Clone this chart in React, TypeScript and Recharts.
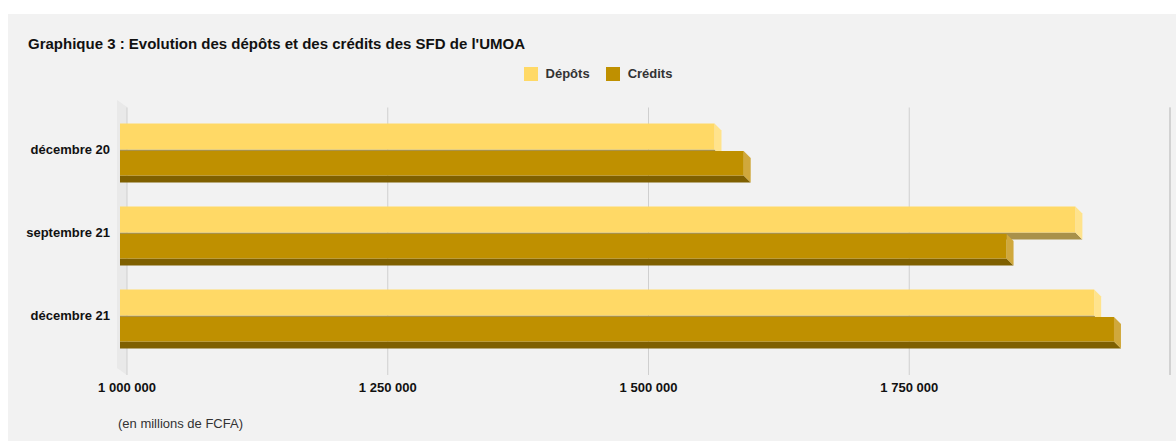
import { BarChart, Bar, XAxis, YAxis, CartesianGrid, ReferenceLine } from "recharts";

const periods = ["décembre 20", "septembre 21", "décembre 21"];
const depots = [1570000, 1916000, 1934000];
const credits = [1598000, 1850000, 1953000];
const xTicks = [1000000, 1250000, 1500000, 1750000, 2000000];

const data = periods.map((p, i) => ({ period: p, depots: depots[i], credits: credits[i] }));

const FONT = "'Liberation Sans', Arial, sans-serif";
const DEPTH = 7;

// 3D-looking bar: front face shifted left, side + bottom faces going down-right
function make3DBar(front: string, side: string, bottom: string, topGap = 0) {
  return (props: any) => {
    const { x, width } = props;
    if (width == null || width <= 0) return null;
    const y = props.y + topGap;
    const height = props.height - topGap;
    const fx = x - DEPTH;
    const r = fx + width;
    const b = y + height;
    return (
      <g>
        <polygon
          points={`${fx},${b} ${r},${b} ${r + DEPTH},${b + DEPTH} ${fx},${b + DEPTH}`}
          fill={bottom}
        />
        <polygon
          points={`${r},${y} ${r + DEPTH},${y + DEPTH} ${r + DEPTH},${b + DEPTH} ${r},${b}`}
          fill={side}
        />
        <rect x={fx} y={y} width={width} height={height} fill={front} />
      </g>
    );
  };
}

const fmt = (v: number) =>
  v >= 2000000 ? "" : v.toLocaleString("fr-FR").replace(/\s/g, " ");

function LegendBox() {
  const items = [
    { label: "Dépôts", color: "#FFD966" },
    { label: "Crédits", color: "#BF9000" },
  ];
  return (
    <div style={{ display: "flex", justifyContent: "center", gap: 16, fontFamily: FONT }}>
      {items.map((it) => (
        <div key={it.label} style={{ display: "flex", alignItems: "center" }}>
          <span style={{ width: 14, height: 14, background: it.color, display: "inline-block", marginRight: 8 }} />
          <span style={{ fontSize: 13, fontWeight: 700, color: "#333" }}>{it.label}</span>
        </div>
      ))}
    </div>
  );
}

export default function App() {
  return (
    <div style={{ position: "fixed", left: 0, top: 0, width: 1176, height: 441, background: "#fff", overflow: "hidden" }}>
      <div
        style={{
          position: "absolute",
          left: 8,
          top: 14,
          width: 1168,
          height: 427,
          background: "#f2f2f2",
          fontFamily: FONT,
        }}
      >
        <div style={{ position: "absolute", left: 20, top: 21, fontSize: 15, fontWeight: 700, color: "#111" }}>
          Graphique 3 : Evolution des dépôts et des crédits des SFD de l'UMOA
        </div>
        <div style={{ position: "absolute", left: 6, top: 52, width: 1168 }}>
          <LegendBox />
        </div>
        <svg style={{ position: "absolute", left: 0, top: 0 }} width={1168} height={427}>
          <polygon points="109,86 119,93 119,361 109,354" fill="#e9e9e9" />
        </svg>
        <div style={{ position: "absolute", left: 0, top: 0 }}>
          <BarChart
            width={1168}
            height={427}
            data={data}
            layout="vertical"
            margin={{ top: 93.5, right: 6, bottom: 36, left: 0 }}
            barGap={0}
            barSize={26}
          >
            <CartesianGrid horizontal={false} stroke="#cfcfcf" />
            <ReferenceLine x={2000000} stroke="#d2d2d2" strokeWidth={2} ifOverflow="visible" />
            <XAxis
              type="number"
              domain={[1000000, 2000000]}
              ticks={xTicks}
              tickFormatter={fmt}
              axisLine={false}
              tickLine={false}
              height={30}
              tickMargin={2}
              tick={{ fontSize: 13, fontWeight: 700, fill: "#111", fontFamily: FONT }}
              interval={0}
            />
            <YAxis
              type="category"
              dataKey="period"
              width={119}
              axisLine={false}
              tickLine={false}
              tickSize={0}
              tickMargin={17}
              padding={{ top: 0, bottom: 18.5 }}
              tick={{ fontSize: 13, fontWeight: 700, fill: "#111", fontFamily: FONT }}
            />
            <Bar
              dataKey="depots"
              name="Dépôts"
              isAnimationActive={false}
              shape={make3DBar("#FFD966", "#FFE38C", "#A8914A")}
            />
            <Bar
              dataKey="credits"
              name="Crédits"
              isAnimationActive={false}
              shape={make3DBar("#BF9000", "#D0A83C", "#7F6000", 1.5)}
            />
          </BarChart>
        </div>
        <div style={{ position: "absolute", left: 110, top: 402, fontSize: 13, color: "#333" }}>
          (en millions de FCFA)
        </div>
      </div>
    </div>
  );
}
